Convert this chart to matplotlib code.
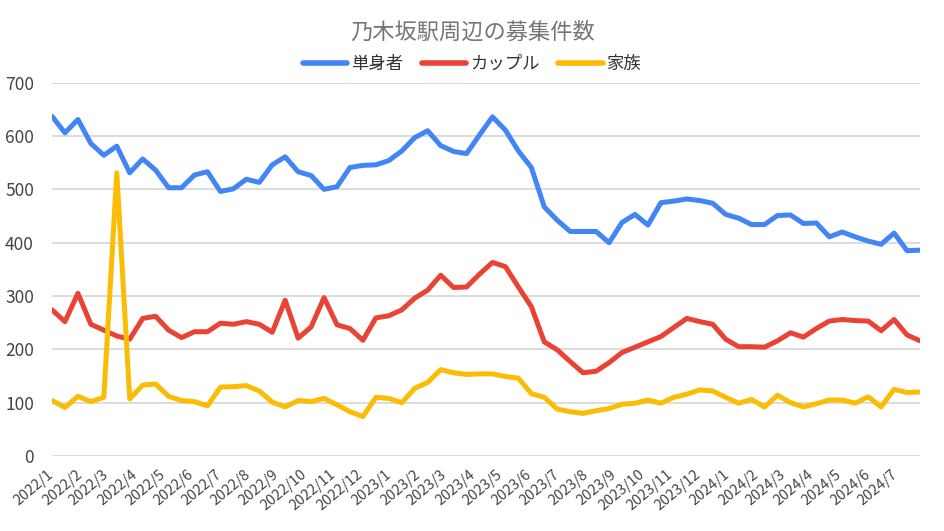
import matplotlib
matplotlib.use("Agg")
import matplotlib.pyplot as plt
import matplotlib.dates as mdates
from matplotlib.ticker import FuncFormatter
import pandas as pd

plt.rcParams['font.family'] = ['Noto Sans CJK JP', 'DejaVu Sans']

title = "乃木坂駅周辺の募集件数"
series_names = ["単身者", "カップル", "家族"]
colors = ["#4285F4", "#EA4335", "#FBBC04"]

single = [637, 606, 631, 586, 564, 581, 531, 557, 536, 503, 503, 527, 533, 496, 501, 519, 513, 546, 561, 533,
          526, 500, 505, 541, 545, 546, 554, 572, 597, 610, 582, 571, 567, 602, 636, 611, 572, 541, 467, 442,
          421, 421, 421, 400, 438, 453, 433, 475, 478, 482, 479, 474, 453, 446, 434, 434, 451, 452, 436, 437,
          411, 420, 411, 403, 397, 418, 385, 386]
couple = [274, 252, 305, 247, 236, 225, 219, 258, 262, 236, 222, 233, 233, 249, 247, 252, 247, 232, 292, 221,
          242, 297, 246, 239, 217, 259, 263, 274, 296, 311, 339, 316, 317, 341, 363, 355, 317, 280, 214, 199,
          177, 156, 159, 175, 194, 204, 214, 224, 241, 258, 252, 247, 219, 205, 205, 204, 216, 231, 223, 239,
          253, 256, 254, 253, 235, 256, 227, 216]
family = [104, 91, 112, 102, 110, 531, 107, 133, 135, 112, 104, 102, 94, 129, 130, 132, 122, 101, 92, 104,
          102, 108, 96, 83, 74, 110, 108, 100, 127, 138, 162, 156, 153, 154, 154, 149, 146, 117, 110, 88,
          83, 80, 85, 89, 97, 99, 105, 99, 110, 116, 124, 122, 110, 99, 106, 92, 114, 100, 92, 98,
          105, 105, 99, 111, 92, 125, 119, 120]

dates = pd.date_range("2022-01-01", periods=len(single), freq="14D")
y_ticks = [0, 100, 200, 300, 400, 500, 600, 700]

fig = plt.figure(figsize=(9.45, 5.31), dpi=100)
ax = fig.add_axes([52 / 945, 1 - 456 / 531, 868 / 945, (456 - 82.7) / 531])

for vals, c, name in zip([single, couple, family], colors, series_names):
    ax.plot(dates, vals, color=c, lw=3.6, label=name, solid_joinstyle='round',
            solid_capstyle='round')

ax.set_xlim(dates[0], dates[-1])
ax.set_ylim(0, 700)
ax.set_yticks(y_ticks)
ax.grid(axis='y', color='#d9d9d9', lw=1.3)
ax.set_axisbelow(True)
for s in ax.spines.values():
    s.set_visible(False)

ax.xaxis.set_major_locator(mdates.MonthLocator())
ax.xaxis.set_major_formatter(FuncFormatter(lambda v, p: f"{mdates.num2date(v).year}/{mdates.num2date(v).month}"))
ax.tick_params(axis='x', length=0, pad=12, labelsize=10.5, labelcolor='#444444')
ax.tick_params(axis='y', length=0, pad=13, labelsize=12.5, labelcolor='#444444')
for lab in ax.get_xticklabels():
    lab.set_rotation(40)
    lab.set_ha('right')
    lab.set_va('center')
    lab.set_rotation_mode('anchor')

fig.text(0.5005, 1 - 32 / 531, title, ha='center', va='center', fontsize=16, color='#757575')

leg = fig.legend(loc='center', bbox_to_anchor=(0.4995, 1 - 64 / 531), ncol=3, frameon=False,
                 fontsize=12.5, handlelength=2.55, handletextpad=0.2, columnspacing=1.1, labelcolor='#333333')
for h in leg.get_lines():
    h.set_linewidth(4)

fig.savefig("out.png", dpi=100)
